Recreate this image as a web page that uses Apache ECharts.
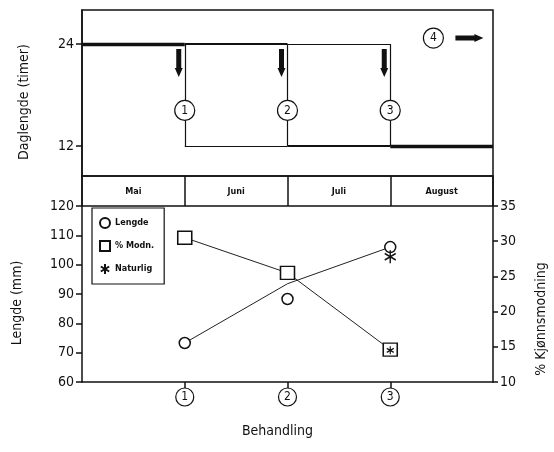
<!DOCTYPE html>
<html>
<head>
<meta charset="utf-8">
<script src="https://cdn.jsdelivr.net/npm/echarts@6/dist/echarts.min.js"></script>
<style>
html,body{margin:0;padding:0;background:#fff;}
#c{width:554px;height:452px;}
</style>
</head>
<body>
<div id="c"></div>
<script>
// ---- data ----
const months = ['Mai', 'Juni', 'Juli', 'August'];
const treatments = [1, 2, 3];
const dayLengthT1 = [24, 12, 12, 12];
const dayLengthT2 = [24, 24, 12, 12];
const dayLengthT3 = [24, 24, 24, 12];
const dayTicks = [12, 24];
const treatmentLabelHours = 16.2;
const controlLabel = '4';
const controlPos = [3.42, 24.7];
const lengde = [73.3, 88.3, 106.0];
const lengdeLine = [73.3, 93.5, 106.0];
const modning = [30.5, 25.5, 14.6];
const naturligLengde = [null, null, 102.7];
const naturligModning = [null, null, 14.5];

const FONT = '"Liberation Sans Narrow", "DejaVu Sans Condensed", sans-serif';
const BLACK = '#111';

// ---- build day-length segments ----
const schedules = [dayLengthT1, dayLengthT2, dayLengthT3];
const widthByCount = [0, 1.2, 2.2, 3.4];
const segs = [];
months.forEach((m, i) => {
  [24, 12].forEach(lv => {
    const n = schedules.filter(s => s[i] === lv).length;
    if (n) segs.push({ coords: [[i, lv], [i + 1, lv]], lineStyle: { width: widthByCount[n] } });
  });
});
const dropPoints = [];
schedules.forEach(s => {
  for (let i = 1; i < s.length; i++) {
    if (s[i] !== s[i - 1]) {
      segs.push({ coords: [[i, s[i - 1]], [i, s[i]]], lineStyle: { width: 1.2 } });
      dropPoints.push(i);
    }
  }
});

const downArrow = 'path://M1.5,0 L6.5,0 L6.5,19 L8,19 L4,28 L0,19 L1.5,19 Z';
const rightArrow = 'path://M0,1.5 L19,1.5 L19,0 L28,4 L19,8 L19,6.5 L0,6.5 Z';
const asterisk = 'path://M5,0 L5,12 M0,3 L10,9 M0,9 L10,3';

const chart = echarts.init(document.getElementById('c'), null, { renderer: 'canvas' });
const axisLine = { show: true, lineStyle: { color: BLACK, width: 1.5 } };
const labelStyle = { color: BLACK, fontFamily: FONT, fontSize: 14 };
const nameStyle = { color: BLACK, fontFamily: FONT, fontSize: 14 };

chart.setOption({
  animation: false,
  backgroundColor: '#fff',
  textStyle: { fontFamily: FONT },
  grid: [
    { left: 82, right: 61, top: 10, height: 166, show: true, borderColor: BLACK, borderWidth: 1.5, containLabel: false, outerBoundsMode: 'none' },
    { left: 82, right: 61, top: 176, height: 30, show: true, borderColor: BLACK, borderWidth: 1.5, containLabel: false, outerBoundsMode: 'none' },
    { left: 82, right: 61, top: 206, height: 176, containLabel: false, outerBoundsMode: 'none' }
  ],
  xAxis: [
    { gridIndex: 0, type: 'value', min: 0, max: 4, show: false },
    { gridIndex: 1, type: 'category', data: months, boundaryGap: true,
      axisLine: { show: false }, axisTick: { show: false },
      splitLine: { show: true, lineStyle: { color: BLACK, width: 1.5 } },
      axisLabel: { inside: true, margin: 10, color: BLACK, fontFamily: FONT, fontSize: 9, fontWeight: 'bold' } },
    { gridIndex: 2, type: 'value', min: 0, max: 4,
      axisLine: axisLine,
      splitLine: { show: false },
      axisTick: { show: true, length: 6, customValues: treatments, lineStyle: { color: BLACK, width: 1.5 } },
      axisLabel: { customValues: treatments, margin: 6,
        formatter: v => '{c|' + v + '}',
        rich: { c: { width: 18, height: 18, lineHeight: 18, align: 'center', borderRadius: 10,
          borderColor: BLACK, borderWidth: 1.2, fontSize: 12, fontFamily: FONT, color: BLACK } } },
      name: 'Behandling', nameLocation: 'middle', nameGap: 42,
      nameTextStyle: Object.assign({}, nameStyle, { padding: [0, 20, 0, 0] }) }
  ],
  yAxis: [
    { gridIndex: 0, type: 'value', min: 8.5, max: 28,
      axisLine: axisLine, splitLine: { show: false },
      axisTick: { show: true, length: 6, customValues: dayTicks, lineStyle: { color: BLACK, width: 1.5 } },
      axisLabel: Object.assign({ customValues: dayTicks, margin: 8 }, labelStyle),
      name: 'Daglengde (timer)', nameLocation: 'middle', nameGap: 51, nameRotate: 90,
      nameTextStyle: Object.assign({}, nameStyle, { padding: [0, 18, 0, 0] }) },
    { gridIndex: 1, type: 'value', min: 0, max: 1, show: false },
    { gridIndex: 2, type: 'value', min: 60, max: 120, interval: 10,
      axisLine: axisLine, splitLine: { show: false },
      axisTick: { show: true, length: 6, lineStyle: { color: BLACK, width: 1.5 } },
      axisLabel: Object.assign({ margin: 8 }, labelStyle),
      name: 'Lengde (mm)', nameLocation: 'middle', nameGap: 58, nameRotate: 90,
      nameTextStyle: Object.assign({}, nameStyle, { padding: [0, 18, 0, 0] }) },
    { gridIndex: 2, type: 'value', position: 'right', min: 10, max: 35, interval: 5,
      axisLine: axisLine, splitLine: { show: false },
      axisTick: { show: true, length: 5, lineStyle: { color: BLACK, width: 1.5 } },
      axisLabel: Object.assign({ margin: 7 }, labelStyle),
      name: '% Kjønnsmodning', nameLocation: 'middle', nameGap: 41, nameRotate: 90,
      nameTextStyle: Object.assign({}, nameStyle, { padding: [0, 50, 0, 0] }) }
  ],
  legend: {
    data: ['Lengde', '% Modn.', 'Naturlig'],
    orient: 'vertical', left: 92, top: 208,
    borderColor: BLACK, borderWidth: 1.2, padding: [9, 10, 9, 7],
    itemWidth: 10, itemHeight: 10, itemGap: 11,
    textStyle: { color: BLACK, fontFamily: FONT, fontSize: 9, fontWeight: 'bold' }
  },
  series: [
    { type: 'lines', coordinateSystem: 'cartesian2d', xAxisIndex: 0, yAxisIndex: 0,
      lineStyle: { color: BLACK, opacity: 1 }, data: segs, z: 2, silent: true },
    { type: 'scatter', xAxisIndex: 0, yAxisIndex: 0, z: 4, silent: true,
      symbol: downArrow, symbolSize: [8, 28], symbolOffset: [-6, 19],
      itemStyle: { color: BLACK, opacity: 1 },
      data: dropPoints.map(x => [x, 24]) },
    { type: 'scatter', xAxisIndex: 0, yAxisIndex: 0, z: 5, silent: true,
      symbol: 'circle', symbolSize: 20,
      itemStyle: { color: '#fff', borderColor: BLACK, borderWidth: 1.2, opacity: 1 },
      label: { show: true, position: 'inside', formatter: p => String(p.value[2]), color: BLACK, fontFamily: FONT, fontSize: 12 },
      data: dropPoints.map((x, i) => [x, treatmentLabelHours, treatments[i]]) },
    { type: 'scatter', xAxisIndex: 0, yAxisIndex: 0, z: 5, silent: true,
      symbol: 'circle', symbolSize: 20,
      itemStyle: { color: '#fff', borderColor: BLACK, borderWidth: 1.2, opacity: 1 },
      label: { show: true, position: 'inside', formatter: controlLabel, color: BLACK, fontFamily: FONT, fontSize: 12 },
      data: [controlPos] },
    { type: 'scatter', xAxisIndex: 0, yAxisIndex: 0, z: 5, silent: true,
      symbol: rightArrow, symbolSize: [28, 8], symbolOffset: [36, 0],
      itemStyle: { color: BLACK, opacity: 1 }, data: [controlPos] },
    // bottom panel
    { type: 'line', xAxisIndex: 2, yAxisIndex: 2, z: 2, silent: true, showSymbol: false, symbol: 'none',
      lineStyle: { color: '#222', width: 1 },
      data: lengdeLine.map((v, i) => [treatments[i], v]) },
    { type: 'line', xAxisIndex: 2, yAxisIndex: 3, z: 2, silent: true, showSymbol: false, symbol: 'none',
      lineStyle: { color: '#222', width: 1 },
      data: modning.map((v, i) => [treatments[i], v]) },
    { name: 'Lengde', type: 'scatter', xAxisIndex: 2, yAxisIndex: 2, z: 4,
      symbol: 'circle', symbolSize: 11,
      itemStyle: { color: '#fff', borderColor: BLACK, borderWidth: 1.5, opacity: 1 },
      data: lengde.map((v, i) => [treatments[i], v]) },
    { name: '% Modn.', type: 'scatter', xAxisIndex: 2, yAxisIndex: 3, z: 4,
      symbol: 'rect', symbolSize: [14, 13],
      itemStyle: { color: '#fff', borderColor: BLACK, borderWidth: 1.5, opacity: 1 },
      data: modning.map((v, i) => [treatments[i], v]) },
    { name: 'Naturlig', type: 'scatter', xAxisIndex: 2, yAxisIndex: 2, z: 5,
      symbol: asterisk, symbolSize: [11, 13],
      itemStyle: { color: 'transparent', borderColor: BLACK, borderWidth: 1.5, opacity: 1 },
      data: naturligLengde.map((v, i) => [treatments[i], v]).filter(d => d[1] != null) },
    { name: 'Naturlig', type: 'scatter', xAxisIndex: 2, yAxisIndex: 3, z: 5,
      symbol: asterisk, symbolSize: [7, 8],
      itemStyle: { color: 'transparent', borderColor: BLACK, borderWidth: 1.2, opacity: 1 },
      data: naturligModning.map((v, i) => [treatments[i], v]).filter(d => d[1] != null) }
  ]
});
</script>
</body>
</html>
